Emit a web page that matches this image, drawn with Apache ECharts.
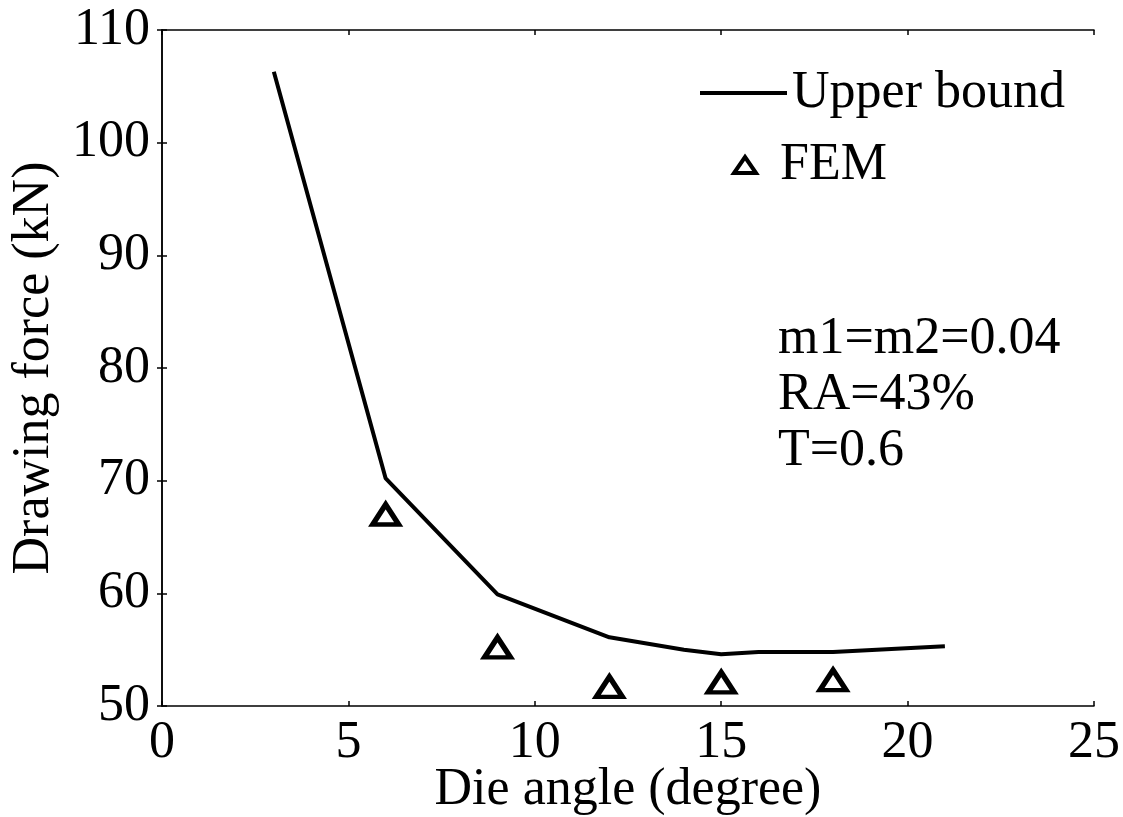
<!DOCTYPE html>
<html>
<head>
<meta charset="utf-8">
<script src="https://cdn.jsdelivr.net/npm/echarts@6/dist/echarts.min.js"></script>
<style>
html,body{margin:0;padding:0;background:#fff;}
#main{width:1123px;height:817px;}
</style>
</head>
<body>
<div id="main"></div>
<script>
// die angle (degree) vs drawing force (kN)
var upperX = [3, 6, 9, 12, 14, 15, 16, 18, 21];
var upperY = [106.3, 70.2, 59.9, 56.1, 55.0, 54.6, 54.8, 54.8, 55.3];
var femX = [6, 9, 12, 15, 18];
var femY = [67.0, 55.2, 51.7, 52.1, 52.3];
var notes = ['m1=m2=0.04', 'RA=43%', 'T=0.6'];

(function (){
var dom = document.getElementById("main");
var myChart = echarts.init(dom);
var font = 'Liberation Serif';

var upperData = upperX.map(function (x, i) { return [x, upperY[i]]; });
var femData = femX.map(function (x, i) { return [x, femY[i]]; });

var axisLine = {show: true, lineStyle: {color: '#000', width: 1.5}};
var tick = {show: true, inside: true, length: 5, lineStyle: {color: '#000', width: 1.5}};

var option = {
    backgroundColor: '#fff',
    animation: false,
    grid: {
        left: 162,
        top: 30,
        right: 29,
        bottom: 111,
        containLabel: false,
        outerBoundsMode: 'none'
    },
    legend: [
        {
            data: [{name: 'Upper bound', icon: 'rect'}],
            left: 695,
            top: 62,
            itemWidth: 87,
            itemHeight: 4,
            itemGap: 8,
            textStyle: {fontFamily: font, fontSize: 52, color: '#000'}
        },
        {
            data: ['FEM'],
            left: 727,
            top: 134,
            itemWidth: 22,
            itemHeight: 16,
            itemStyle: {color: '#fff', borderColor: '#000', borderWidth: 4},
            textStyle: {fontFamily: font, fontSize: 52, color: '#000', padding: [0, 0, 0, 19]}
        }
    ],
    xAxis: [
        {
            type: 'value',
            min: 0,
            max: 25,
            interval: 5,
            name: 'Die angle (degree)',
            nameLocation: 'middle',
            nameGap: 58,
            nameMoveOverlap: false,
            nameTextStyle: {fontFamily: font, fontSize: 52, color: '#000'},
            axisLine: axisLine,
            axisTick: tick,
            axisLabel: {fontFamily: font, fontSize: 52, color: '#000', margin: 11},
            splitLine: {show: false}
        },
        {
            type: 'value',
            position: 'top',
            min: 0,
            max: 25,
            interval: 5,
            axisLine: axisLine,
            axisTick: tick,
            axisLabel: {show: false},
            splitLine: {show: false}
        }
    ],
    yAxis: [
        {
            type: 'value',
            min: 50,
            max: 110,
            interval: 10,
            name: 'Drawing force (kN)',
            nameLocation: 'middle',
            nameGap: 102,
            nameMoveOverlap: false,
            nameTextStyle: {fontFamily: font, fontSize: 52, color: '#000'},
            axisLine: axisLine,
            axisTick: tick,
            axisLabel: {fontFamily: font, fontSize: 52, color: '#000', margin: 12},
            splitLine: {show: false}
        },
        {
            type: 'value',
            position: 'right',
            min: 50,
            max: 110,
            interval: 10,
            axisLine: axisLine,
            axisTick: tick,
            axisLabel: {show: false},
            splitLine: {show: false}
        }
    ],
    graphic: notes.map(function (t, i) {
        return {
            type: 'text',
            left: 778,
            top: 313 + i * 56,
            style: {text: t, font: '52px "Liberation Serif"', fill: '#000'}
        };
    }),
    series: [
        {
            name: 'Upper bound',
            type: 'line',
            data: upperData,
            showSymbol: false,
            symbol: 'none',
            lineStyle: {color: '#000', width: 4},
            itemStyle: {color: '#000'}
        },
        {
            name: 'FEM',
            type: 'scatter',
            data: femData,
            symbol: 'triangle',
            symbolSize: [26, 20],
            itemStyle: {color: '#fff', borderColor: '#000', borderWidth: 5, opacity: 1}
        }
    ]
};
myChart.setOption(option, true);
})();
</script>
</body>
</html>
